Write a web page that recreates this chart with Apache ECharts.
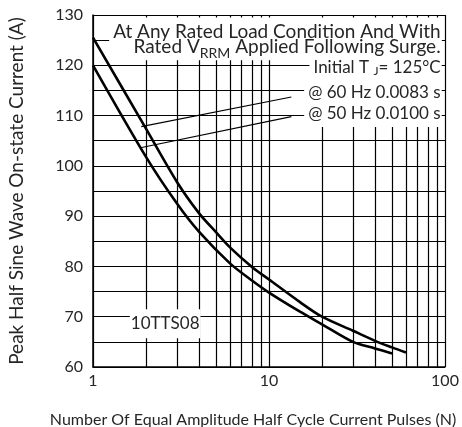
<!DOCTYPE html>
<html>
<head>
<meta charset="utf-8">
<script src="https://cdn.jsdelivr.net/npm/echarts@6/dist/echarts.min.js"></script>
<style>
html,body{margin:0;padding:0;background:#fff;}
#chart{width:462px;height:427px;}
</style>
</head>
<body>
<div id="chart"></div>
<script>
// ---- data ----
const nUpper = [1, 2, 3, 4, 5, 6, 8, 10, 15, 20, 30, 40, 50, 60];
const upper60 = [125.5, 107.4, 96.8, 90.6, 86.8, 83.8, 79.9, 77.4, 72.9, 70.0, 67.2, 65.2, 63.9, 62.9];
const nLower = [1, 2, 3, 4, 6, 8, 10, 15, 20, 30, 40, 50];
const lower50 = [120.0, 101.8, 92.5, 86.9, 80.6, 77.2, 74.8, 71.0, 68.5, 65.0, 63.7, 62.7];
const yTicks = [60, 70, 80, 90, 100, 110, 120, 130];
const xTicks = [1, 10, 100];
const xMinorGrid = [2, 3, 4, 5, 6, 7, 8, 9, 20, 30, 40, 50, 60, 70, 80, 90];
// leader lines: [label end, curve end]
const leader60 = [[13.4, 113.7], [1.88, 107.8]];
const leader50 = [[13.4, 109.8], [1.86, 103.6]];

const FONT = 'Lato';
const INK = '#262626';

const chart = echarts.init(document.getElementById('chart'), null, {renderer: 'canvas'});

function pairs(xs, ys) { return xs.map((x, i) => [x, ys[i]]); }

chart.setOption({
  animation: false,
  backgroundColor: '#fff',
  grid: {left: 93, right: 17, top: 15, bottom: 60, show: false, containLabel: false, outerBoundsMode: 'none'},
  xAxis: {
    type: 'log', logBase: 10, min: xTicks[0], max: xTicks[xTicks.length - 1],
    name: 'Number Of Equal Amplitude Half Cycle Current Pulses (N)',
    nameLocation: 'middle', nameGap: 45,
    nameTextStyle: {fontFamily: FONT, fontSize: 16, color: INK, padding: [0, 32, 0, 0]},
    axisLine: {show: true, lineStyle: {color: '#000', width: 1.5}},
    axisTick: {show: false},
    axisLabel: {fontFamily: FONT, fontSize: 16, color: INK, margin: 6},
    splitLine: {show: true, lineStyle: {color: '#000', width: 1.2}}
  },
  yAxis: {
    type: 'value', min: yTicks[0], max: yTicks[yTicks.length - 1], interval: 10,
    name: 'Peak Half Sine Wave On-state Current (A)',
    nameLocation: 'middle', nameGap: 67, nameRotate: 90,
    nameTextStyle: {fontFamily: FONT, fontSize: 19, color: INK},
    axisLine: {show: true, lineStyle: {color: '#000', width: 1.5}},
    axisTick: {show: false},
    axisLabel: {fontFamily: FONT, fontSize: 16, color: INK, margin: 10},
    splitLine: {show: true, lineStyle: {color: '#000', width: 1.2}},
    minorTick: {show: false, splitNumber: 2},
    minorSplitLine: {show: true, lineStyle: {color: '#000', width: 1.2}}
  },
  series: [
    {
      name: '60 Hz', type: 'line', data: pairs(nUpper, upper60),
      showSymbol: false, smooth: 0.3, lineStyle: {color: '#000', width: 2.6}, z: 5,
      markLine: {
        silent: true, symbol: 'none', label: {show: false},
        lineStyle: {color: '#000', width: 1.2, type: 'solid'},
        data: xMinorGrid.map(v => ({xAxis: v})).concat([
          [{coord: leader60[0]}, {coord: leader60[1]}],
          [{coord: leader50[0]}, {coord: leader50[1]}]
        ])
      }
    },
    {
      name: '50 Hz', type: 'line', data: pairs(nLower, lower50),
      showSymbol: false, smooth: 0.3, lineStyle: {color: '#000', width: 2.6}, z: 5
    }
  ]
});

// annotations anchored in data coordinates: a white box layer, then the text layer
const RIGHT_N = 95.7;
function px(n, v) { return chart.convertToPixel({gridIndex: 0}, [n, v]); }
function label(n, v, text, align, size, padding, rich) {
  const p = px(n, v);
  const mk = (bg) => ({
    type: 'text', x: p[0], y: p[1], z: bg ? 100 : 110, silent: true,
    style: {
      text: text, align: align, verticalAlign: 'middle',
      fontFamily: FONT, fontSize: size, fill: bg ? 'rgba(0,0,0,0)' : INK,
      backgroundColor: bg ? '#fff' : 'rgba(0,0,0,0)', padding: padding,
      rich: rich ? Object.fromEntries(Object.entries(rich).map(([k, s]) =>
        [k, Object.assign({}, s, {fill: bg ? 'rgba(0,0,0,0)' : INK})])) : {}
    }
  });
  return [mk(true), mk(false)];
}
const sub = (size, drop) => ({fontFamily: FONT, fontSize: size, padding: [drop, 0, 0, 0]});

chart.setOption({
  graphic: [].concat(
    label(RIGHT_N, 123.6, 'Rated V{s|RRM} Applied Following Surge.', 'right', 19, [0, 1, 0, 4], {s: sub(14, 12)}),
    label(RIGHT_N, 126.8, 'At Any Rated Load Condition And With', 'right', 19, [5, 1, 3, 4]),
    label(RIGHT_N, 119.6, 'Initial T {s|J}= 125°C', 'right', 17, [3, 1, 3, 4], {s: sub(12, 8)}),
    label(RIGHT_N, 114.6, '@ 60 Hz 0.0083 s', 'right', 17, [5, 1, 5, 4]),
    label(RIGHT_N, 110.4, '@ 50 Hz 0.0100 s', 'right', 17, [5, 1, 5, 4]),
    label(2.57, 68.6, '10TTS08', 'center', 17, [6, 1, 6, 1])
  )
});
</script>
</body>
</html>
